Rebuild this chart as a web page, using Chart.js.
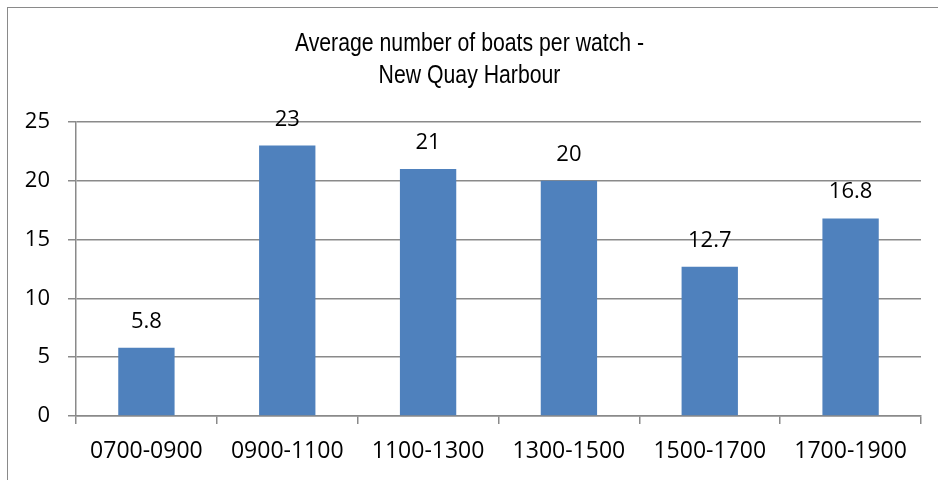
<!DOCTYPE html>
<html>
<head>
<meta charset="utf-8">
<script src="https://cdn.jsdelivr.net/npm/chart.js@4"></script>
<style>
  body { margin: 0; background: #fff; }
  #frame { position: absolute; left: 7px; top: 7px; width: 940px; height: 480px;
           border-left: 1.5px solid #8a8a8a; border-top: 1.5px solid #8a8a8a; }
  #wrap { position: absolute; left: 18px; top: 0; width: 920px; height: 480px; }
</style>
</head>
<body>
<div id="frame"></div>
<div id="wrap"><canvas id="boatChart"></canvas></div>
<script>
const watches = ['0700-0900', '0900-1100', '1100-1300', '1300-1500', '1500-1700', '1700-1900'];
const avgBoats = [5.8, 23, 21, 20, 12.7, 16.8];
const yTicks = [0, 5, 10, 15, 20, 25];
const titleLines = ['Average number of boats per watch -', 'New Quay Harbour'];

// draws the value above each bar, like Excel data labels
const barValues = {
    id: 'barValues',
    afterDatasetsDraw(chart) {
        const ctx = chart.ctx;
        const meta = chart.getDatasetMeta(0);
        ctx.save();
        ctx.font = '22px "Open Sans"';
        ctx.fillStyle = '#000';
        ctx.textAlign = 'center';
        ctx.textBaseline = 'alphabetic';
        meta.data.forEach((bar, i) => {
            ctx.fillText(String(avgBoats[i]), bar.x, bar.y - 20);
        });
        ctx.restore();
    }
};

// the title font in the original is a narrow arial, so squeeze it a bit
const narrowTitle = {
    id: 'narrowTitle',
    afterDraw(chart) {
        const tb = chart.titleBlock;
        const ctx = chart.ctx;
        const cx = (tb.left + tb.right) / 2;
        ctx.save();
        ctx.font = '25px "Liberation Sans"';
        ctx.fillStyle = '#000';
        ctx.textAlign = 'center';
        ctx.textBaseline = 'middle';
        ctx.translate(cx, 0);
        ctx.scale(0.85, 1);
        titleLines.forEach((line, i) => {
            ctx.fillText(line, 0, tb.top + 16 + i * 32);
        });
        ctx.restore();
    }
};

const ctx = document.getElementById('boatChart').getContext('2d');
new Chart(ctx, {
    type: 'bar',
    data: {
        labels: watches,
        datasets: [{
            label: 'Average number of boats',
            data: avgBoats,
            backgroundColor: '#4F81BD',
            categoryPercentage: 1,
            barPercentage: 0.4
        }]
    },
    options: {
        responsive: true,
        maintainAspectRatio: false,
        animation: false,
        layout: { padding: { top: 28, right: 17, bottom: 0, left: 0 } },
        plugins: {
            legend: { display: false },
            tooltip: { enabled: false },
            title: {
                display: true,
                text: titleLines,
                color: 'rgba(0,0,0,0)',
                font: { family: '"Liberation Sans"', size: 25, weight: 'normal', lineHeight: 1.28 },
                padding: { top: 0, bottom: 30 }
            }
        },
        scales: {
            x: {
                grid: { offset: true, drawOnChartArea: false, drawTicks: true, tickLength: 8, color: '#8a8a8a', lineWidth: 1.5 },
                border: { color: '#8a8a8a', width: 1.5 },
                ticks: { color: '#000', font: { family: '"Open Sans"', size: 23 }, padding: 14, maxRotation: 0 },
                afterFit: s => { s.height = 64; }
            },
            y: {
                min: 0,
                max: 25,
                afterBuildTicks: s => { s.ticks = yTicks.map(v => ({ value: v })); },
                grid: { color: '#8a8a8a', lineWidth: 1.5, tickLength: 8 },
                border: { color: '#8a8a8a', width: 1.5 },
                ticks: { color: '#000', font: { family: '"Open Sans"', size: 22 }, padding: 18 },
                afterFit: s => { s.width = 58; }
            }
        }
    },
    plugins: [barValues, narrowTitle]
});
</script>
</body>
</html>
